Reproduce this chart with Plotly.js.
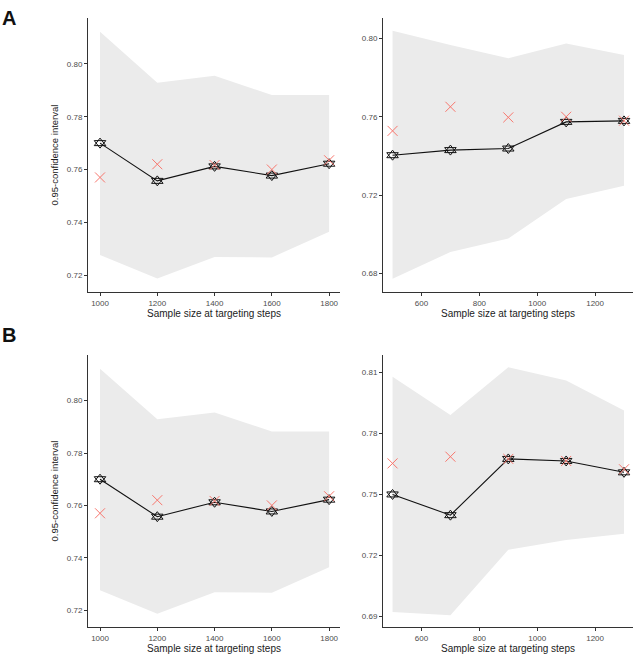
<!DOCTYPE html>
<html>
<head>
<meta charset="utf-8">
<script src="https://cdn.plot.ly/plotly-3.0.1.min.js"></script>
<style>
  html, body { margin: 0; padding: 0; background: #fff; }
  #chart { width: 640px; height: 655px; }
</style>
</head>
<body>
<div id="chart"></div>
<script>
// sample sizes
const sizesLeft = [1000, 1200, 1400, 1600, 1800];
const sizesRight = [500, 700, 900, 1100, 1300];

// A, left panel
const aLeftUpper = [0.8122, 0.7929, 0.7955, 0.7882, 0.7882];
const aLeftLower = [0.7276, 0.7187, 0.7269, 0.7267, 0.7364];
const aLeftEst = [0.7700, 0.7557, 0.7612, 0.7577, 0.7622];
const aLeftRef = [0.7570, 0.7620, 0.7617, 0.7600, 0.7635];

// A, right panel
const aRightUpper = [0.8039, 0.7966, 0.7898, 0.7974, 0.7915];
const aRightLower = [0.6774, 0.6910, 0.6979, 0.7180, 0.7248];
const aRightEst = [0.7404, 0.7430, 0.7438, 0.7574, 0.7579];
const aRightRef = [0.7528, 0.7651, 0.7597, 0.7600, 0.7580];

// B, left panel
const bLeftUpper = [0.8122, 0.7929, 0.7955, 0.7882, 0.7882];
const bLeftLower = [0.7276, 0.7187, 0.7269, 0.7267, 0.7364];
const bLeftEst = [0.7700, 0.7557, 0.7612, 0.7577, 0.7622];
const bLeftRef = [0.7570, 0.7620, 0.7617, 0.7600, 0.7635];

// B, right panel
const bRightUpper = [0.8080, 0.7891, 0.8127, 0.8061, 0.7913];
const bRightLower = [0.6921, 0.6905, 0.7227, 0.7276, 0.7306];
const bRightEst = [0.7500, 0.7398, 0.7675, 0.7665, 0.7609];
const bRightRef = [0.7653, 0.7686, 0.7675, 0.7665, 0.7624];

const ribbonCol = '#EBEBEB';
const redCol = '#F8766D';

function panel(xs, up, lo, est, ref, xa, ya) {
    return [
        { x: xs, y: lo, xaxis: xa, yaxis: ya, mode: 'lines', line: {width: 0, color: ribbonCol},
          hoverinfo: 'skip', showlegend: false },
        { x: xs, y: up, xaxis: xa, yaxis: ya, mode: 'lines', line: {width: 0, color: ribbonCol},
          fill: 'tonexty', fillcolor: ribbonCol, hoverinfo: 'skip', showlegend: false },
        { x: xs, y: est, xaxis: xa, yaxis: ya, mode: 'lines', showlegend: false,
          line: {color: '#111', width: 1.1} },
        // star = up triangle + down triangle
        { x: xs, y: est, xaxis: xa, yaxis: ya, mode: 'markers', showlegend: false,
          marker: {symbol: 'triangle-up-open', size: 10, color: '#111', line: {width: 1, color: '#111'}} },
        { x: xs, y: est, xaxis: xa, yaxis: ya, mode: 'markers', showlegend: false,
          marker: {symbol: 'triangle-down-open', size: 10, color: '#111', line: {width: 1, color: '#111'}} },
        { x: xs, y: ref, xaxis: xa, yaxis: ya, mode: 'markers', showlegend: false,
          marker: {symbol: 'x-thin-open', size: 10, color: redCol, line: {width: 1, color: redCol}} }
    ];
}

const data = [].concat(
    panel(sizesLeft, aLeftUpper, aLeftLower, aLeftEst, aLeftRef, 'x', 'y'),
    panel(sizesRight, aRightUpper, aRightLower, aRightEst, aRightRef, 'x2', 'y2'),
    panel(sizesLeft, bLeftUpper, bLeftLower, bLeftEst, bLeftRef, 'x3', 'y3'),
    panel(sizesRight, bRightUpper, bRightLower, bRightEst, bRightRef, 'x4', 'y4')
);

const tickFont = {family: 'Liberation Sans, Arial, sans-serif', size: 8, color: '#4D4D4D'};
const titleFont = {family: 'Liberation Sans, Arial, sans-serif', size: 10, color: '#222'};

function xAxis(domain, range, anchor) {
    return {
        domain: domain, range: range, anchor: anchor,
        showline: true, linecolor: '#333', linewidth: 1,
        showgrid: false, zeroline: false,
        ticks: 'outside', ticklen: 3, tickcolor: '#333', tickwidth: 1,
        dtick: 200, tick0: 0, tickfont: tickFont,
        title: {text: 'Sample size at targeting steps', font: titleFont, standoff: 2}
    };
}
function yAxis(domain, range, anchor, tick0, dtick, withTitle) {
    const ax = {
        domain: domain, range: range, anchor: anchor,
        showline: true, linecolor: '#333', linewidth: 1,
        showgrid: false, zeroline: false,
        ticks: 'outside', ticklen: 3, tickcolor: '#333', tickwidth: 1,
        tick0: tick0, dtick: dtick, tickformat: '.2f', tickfont: tickFont
    };
    if (withTitle) ax.title = {text: '0.95-confidence interval', font: {family: titleFont.family, size: 9.5, color: '#222'}, standoff: 6};
    return ax;
}

const leftDom = [88 / 640, 340 / 640];
const rightDom = [383 / 640, 633 / 640];
const topDom = [1 - 292 / 655, 1 - 18 / 655];
const botDom = [1 - 627 / 655, 1 - 355 / 655];

const layout = {
    width: 640, height: 655,
    margin: {l: 0, r: 0, t: 0, b: 0},
    paper_bgcolor: '#fff', plot_bgcolor: '#fff',
    showlegend: false,
    xaxis: xAxis(leftDom, [958, 1838], 'y'),
    yaxis: yAxis(topDom, [0.7136, 0.8174], 'x', 0.72, 0.02, true),
    xaxis2: xAxis(rightDom, [467, 1331], 'y2'),
    yaxis2: yAxis(topDom, [0.6706, 0.8104], 'x2', 0.68, 0.04, false),
    xaxis3: xAxis(leftDom, [958, 1838], 'y3'),
    yaxis3: yAxis(botDom, [0.7136, 0.8174], 'x3', 0.72, 0.02, true),
    xaxis4: xAxis(rightDom, [467, 1331], 'y4'),
    yaxis4: yAxis(botDom, [0.6847, 0.8187], 'x4', 0.69, 0.03, false),
    annotations: [
        {text: '<b>A</b>', xref: 'paper', yref: 'paper', x: 0.0, y: 1 - 18 / 655, xanchor: 'left', yanchor: 'middle',
         showarrow: false, font: {family: 'Liberation Sans Narrow, Liberation Sans, sans-serif', size: 20, color: '#111'}},
        {text: '<b>B</b>', xref: 'paper', yref: 'paper', x: 0.0, y: 1 - 335 / 655, xanchor: 'left', yanchor: 'middle',
         showarrow: false, font: {family: 'Liberation Sans Narrow, Liberation Sans, sans-serif', size: 20, color: '#111'}}
    ]
};

Plotly.newPlot('chart', data, layout, {displayModeBar: false, staticPlot: true});
</script>
</body>
</html>
